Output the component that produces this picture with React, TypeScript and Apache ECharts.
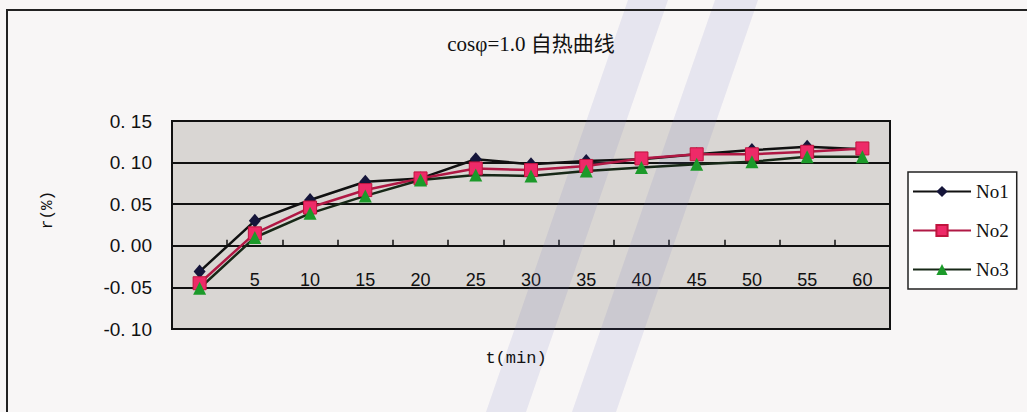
import React, { useEffect, useRef } from "react";
import * as echarts from "echarts";

// Time after start (min) and relative error r (%) for three samples
const minutes = ["0", "5", "10", "15", "20", "25", "30", "35", "40", "45", "50", "55", "60"];
const no1 = [-0.031, 0.03, 0.055, 0.077, 0.081, 0.104, 0.098, 0.102, 0.104, 0.11, 0.115, 0.119, 0.116];
const no2 = [-0.045, 0.015, 0.046, 0.067, 0.081, 0.093, 0.091, 0.096, 0.105, 0.11, 0.11, 0.113, 0.117];
const no3 = [-0.051, 0.01, 0.039, 0.06, 0.079, 0.085, 0.084, 0.09, 0.094, 0.098, 0.101, 0.107, 0.107];
const seriesNames = ["No1", "No2", "No3"];

const titleText = "cosφ=1.0 自热曲线";
const xName = "t(min)";
const yName = "r(%)";

const yMin = -0.1;
const yMax = 0.15;
const yStep = 0.05;

export default function App() {
  const ref = useRef<HTMLDivElement>(null);

  useEffect(() => {
    if (!ref.current) return;
    const chart = echarts.init(ref.current, undefined, { renderer: "svg" });

    const gridTop = 121;
    const gridBottom = 83;
    const gridHeight = 412 - gridTop - gridBottom;
    // the category axis runs along r = 0 inside the plot
    const zeroOffset = -gridHeight * ((0 - yMin) / (yMax - yMin));

    const lineCommon = {
      type: "line" as const,
      showSymbol: true,
      z: 3,
    };

    chart.setOption({
      animation: false,
      backgroundColor: "#f8f6f6",
      title: {
        text: titleText,
        left: 526,
        top: 28,
        textAlign: "center",
        textStyle: {
          fontFamily: "'Liberation Serif', 'Noto Sans CJK SC', serif",
          fontSize: 21,
          fontWeight: "normal",
          color: "#111",
        },
      },
      grid: {
        left: 172,
        right: 137,
        top: gridTop,
        bottom: gridBottom,
        show: true,
        backgroundColor: "#d9d6d3",
        borderColor: "#111",
        borderWidth: 2,
      },
      legend: {
        orient: "vertical",
        left: 908,
        top: 172,
        padding: [10, 8, 10, 4],
        backgroundColor: "#ffffff",
        borderColor: "#222",
        borderWidth: 1.5,
        borderRadius: 0,
        itemWidth: 58,
        itemHeight: 14,
        itemGap: 20,
        data: seriesNames,
        textStyle: {
          fontFamily: "'Liberation Serif', serif",
          fontSize: 19,
          color: "#111",
        },
      },
      xAxis: {
        type: "category",
        data: minutes,
        boundaryGap: true,
        position: "bottom",
        offset: zeroOffset,
        axisLine: {
          onZero: false,
          lineStyle: { color: "#111", width: 2 },
        },
        axisTick: {
          show: true,
          inside: true,
          length: 6,
          interval: 0,
          lineStyle: { color: "#111", width: 1.5 },
        },
        axisLabel: {
          margin: 25,
          interval: 0,
          fontFamily: "'Liberation Sans', sans-serif",
          fontSize: 18,
          color: "#111",
          formatter: (v: string, i: number) => (i === 0 ? "" : v),
        },
        splitLine: { show: false },
      },
      yAxis: {
        type: "value",
        min: yMin,
        max: yMax,
        interval: yStep,
        axisLine: { show: false },
        axisTick: { show: false },
        axisLabel: {
          margin: 20,
          fontFamily: "'Liberation Sans', sans-serif",
          fontSize: 19,
          color: "#111",
          formatter: (v: number) => v.toFixed(2).replace(".", ". "),
        },
        splitLine: { show: true, lineStyle: { color: "#111", width: 2 } },
      },
      graphic: [
        // frame around the whole chart area
        {
          type: "rect",
          shape: { x: 7, y: 10, width: 1060, height: 440 },
          style: { fill: "none", stroke: "#222", lineWidth: 2 },
          z: 10,
        },
        // faint diagonal scanner bands
        {
          type: "polygon",
          shape: { points: [[628, 0], [668, 0], [526, 412], [486, 412]] },
          style: { fill: "rgba(110,110,190,0.12)" },
          z: 1,
        },
        {
          type: "polygon",
          shape: { points: [[715, 0], [758, 0], [616, 412], [572, 412]] },
          style: { fill: "rgba(110,110,190,0.12)" },
          z: 1,
        },
        {
          type: "text",
          x: 516,
          y: 358,
          style: {
            text: xName,
            fontFamily: "'Liberation Mono', monospace",
            fontSize: 17,
            fill: "#111",
            align: "center",
            verticalAlign: "middle",
          },
          z: 10,
        },
        {
          type: "text",
          x: 48,
          y: 210,
          rotation: Math.PI / 2,
          style: {
            text: yName,
            fontFamily: "'Liberation Mono', monospace",
            fontSize: 16,
            fill: "#111",
            align: "center",
            verticalAlign: "middle",
          },
          z: 10,
        },
      ],
      series: [
        {
          ...lineCommon,
          name: seriesNames[0],
          data: no1,
          symbol: "diamond",
          symbolSize: [12, 14],
          itemStyle: { color: "#15153a" },
          lineStyle: { color: "#111", width: 2.5 },
        },
        {
          ...lineCommon,
          name: seriesNames[1],
          data: no2,
          symbol: "rect",
          symbolSize: 13,
          itemStyle: { color: "#ee2a68", borderColor: "#c0143e", borderWidth: 1 },
          lineStyle: { color: "#b01844", width: 2.5 },
        },
        {
          ...lineCommon,
          name: seriesNames[2],
          data: no3,
          symbol: "triangle",
          symbolSize: 13,
          itemStyle: { color: "#1c9a2a" },
          lineStyle: { color: "#172817", width: 2.5 },
        },
      ],
    });

    return () => chart.dispose();
  }, []);

  return (
    <div
      ref={ref}
      style={{ position: "fixed", left: 0, top: 0, width: 1027, height: 412 }}
    />
  );
}
